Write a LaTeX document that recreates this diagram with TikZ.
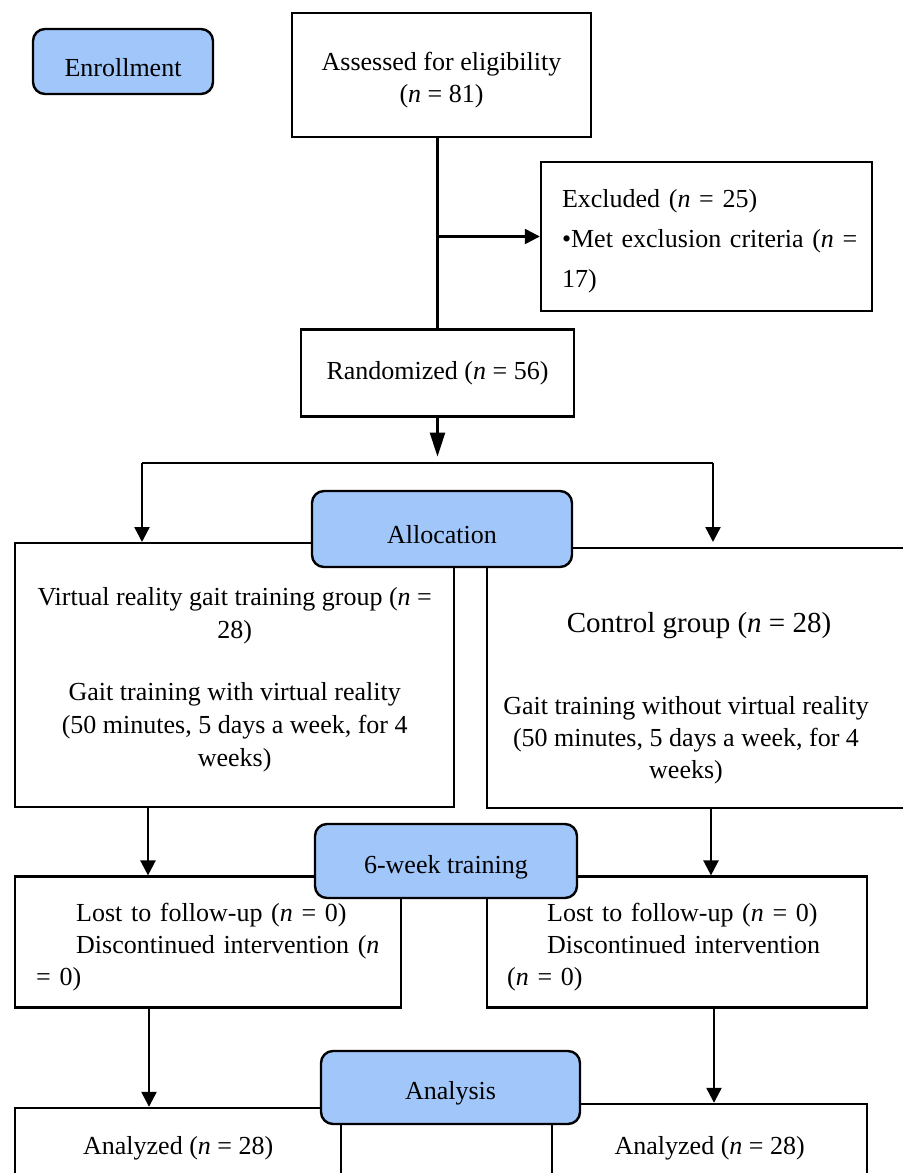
\documentclass[tikz,border=0pt]{standalone}
\usepackage{fontspec}
\setmainfont{Liberation Serif}
\usetikzlibrary{arrows.meta, positioning}
\definecolor{stageblue}{RGB}{160,198,250}
\newcommand{\topstrut}{\rule{0pt}{14pt}}

\begin{document}
\begin{tikzpicture}[x=0.5pt, y=-0.5pt,
        box/.style = {
            rectangle,
            draw,
            line width=1.2pt,
            inner sep=0pt,
            align = center,
            font = \fontsize{13}{16}\selectfont
        },
        stage/.style = {
            rectangle,
            draw,
            line width=1.2pt,
            fill=stageblue,
            rounded corners=6pt,
            inner sep=0pt,
            align = center,
            font = \fontsize{13}{16}\selectfont,
            execute at begin node={\rule{0pt}{15pt}}
        },
        arr/.style = {line width=1.2pt, -{Triangle[length=7.5pt, width=7.5pt]}}
    ]
    \useasboundingbox (0,0) rectangle (903,1173);
    \clip (0,0) rectangle (903,1173);

    % enrollment
    \node (enroll) [stage, minimum width=90pt, minimum height=32.5pt] at (123,61.5)
        {Enrollment};
    \node (assessed) [box, minimum width=149.5pt, minimum height=62pt] at (441.5,75)
        {\topstrut Assessed for eligibility\\ (\textit{n} = 81)};
    \node (excluded) [box, minimum width=165.5pt, minimum height=74.5pt, text width=144.5pt,
        align=left, font=\fontsize{13}{20}\selectfont] at (706.5,236.5)
        {\topstrut Excluded (\textit{n} = 25)\\
         \makebox[144.5pt][s]{\textbullet Met exclusion criteria (\textit{n} =}\\
         17)};
    \node (random) [box, minimum width=136.5pt, minimum height=43.5pt, below=95pt of assessed, xshift=-2pt]
        {Randomized (\textit{n} = 56)};

    % allocation
    \node (vr) [box, minimum width=219.5pt, minimum height=132pt, anchor=north west,
        font=\fontsize{13}{16.5}\selectfont] at (14,542)
        {\topstrut Virtual reality gait training group (\textit{n} =\\ 28)\\[14.5pt]
         Gait training with virtual reality\\ (50 minutes, 5 days a week, for 4\\ weeks)};
    \node (ctrl) [box, minimum width=214.5pt, minimum height=130pt, anchor=north west] at (486,547) {};
    \node (ctrltext) [align=center, font=\fontsize{13}{16}\selectfont] at (686,698)
        {{\fontsize{14.5}{16}\selectfont \hspace*{13pt}Control group (\textit{n} = 28)}\\[25pt]
         Gait training without virtual reality\\ (50 minutes, 5 days a week, for 4\\ weeks)};

    % follow-up
    \node (lostvr) [box, minimum width=193pt, minimum height=65.5pt, text width=172pt, align=left,
        below=33.5pt of vr.south west, anchor=north west]
        {\topstrut\hspace*{20pt}Lost to follow-up (\textit{n} = 0)\\
         \hspace*{20pt}Discontinued intervention (\textit{n}\\
         = 0)};
    \node (lostctrl) [box, minimum width=190pt, minimum height=65.5pt, text width=170pt, align=left,
        below=33pt of ctrl.south west, anchor=north west]
        {\topstrut\hspace*{20pt}Lost to follow-up (\textit{n} = 0)\\
         \hspace*{20pt}\makebox[150pt][s]{Discontinued intervention}\\
         (\textit{n} = 0)};

    % analysis
    \node (anavr) [box, minimum width=163pt, minimum height=40pt,
        below=49pt of lostvr.south west, anchor=north west]
        {Analyzed (\textit{n} = 28)};
    \node (anactrl) [box, minimum width=157.5pt, minimum height=44pt,
        below=47pt of lostctrl.south west, anchor=north west, xshift=32.5pt]
        {Analyzed (\textit{n} = 28)};

    \node (alloc) [stage, minimum width=130pt, minimum height=38pt] at (442,529) {Allocation};
    \node (sixweek) [stage, minimum width=131pt, minimum height=37pt] at (446,861) {6-week training};
    \node (analysis) [stage, minimum width=129.5pt, minimum height=36.5pt] at (450.5,1087.5) {Analysis};

    \coordinate (splitL) at (142,463);
    \coordinate (splitR) at (713,463);

    \draw[line width=1.2pt] (random.north) -- (random.north |- assessed.south);
    \draw[arr] (random.north |- excluded.west) -- (excluded.west);
    \draw[arr, -{Triangle[length=12pt, width=7.5pt]}] (random.south) -- ++(0,39);
    \draw[line width=1.2pt] (splitL) -- (splitR);
    \draw[arr] (splitL) -- (splitL |- vr.north);
    \draw[arr] (splitR) -- (splitR |- vr.north);
    \draw[arr] ([xshift=67pt]vr.south west) -- ([xshift=67pt]lostvr.north west);
    \draw[arr] ([xshift=112.5pt]ctrl.south west) -- ([xshift=112.5pt]lostctrl.north west);
    \draw[arr] ([xshift=67.5pt]lostvr.south west) -- ([xshift=67.5pt]anavr.north west);
    \draw[arr] ([xshift=114pt]lostctrl.south west) -- ([xshift=114pt]lostctrl.south west |- anactrl.north);
\end{tikzpicture}
\end{document}
